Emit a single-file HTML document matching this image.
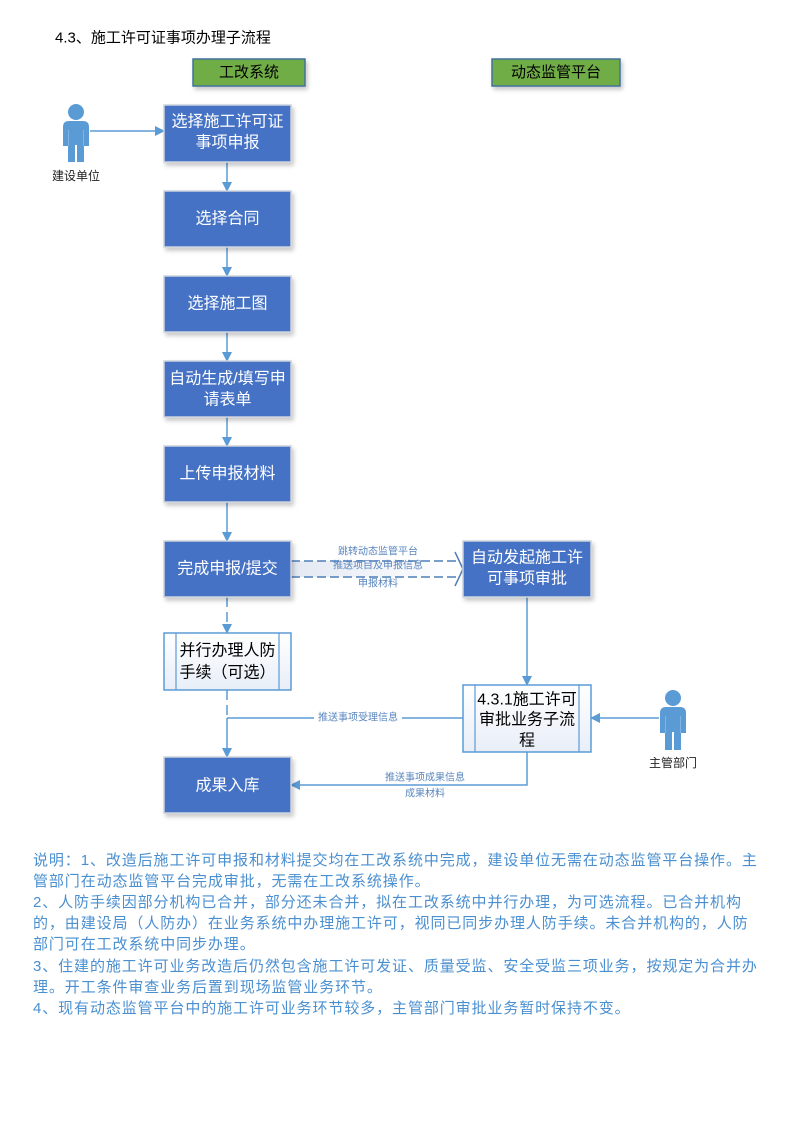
<!DOCTYPE html>
<html>
<head>
<meta charset="utf-8">
<style>
  html,body{margin:0;padding:0;background:#fff;}
  body{width:792px;height:1121px;position:relative;overflow:hidden;font-family:"Liberation Sans","Noto Sans CJK SC",sans-serif;}
  svg{position:absolute;left:0;top:0;}
  .note{position:absolute;left:33px;white-space:nowrap;font-size:15px;letter-spacing:0.9px;line-height:21px;color:#4A8FD0;font-family:"Liberation Sans","Noto Sans CJK SC",sans-serif;}
</style>
</head>
<body>
<svg width="792" height="1121" viewBox="0 0 792 1121" xmlns="http://www.w3.org/2000/svg" font-family="Liberation Sans, Noto Sans CJK SC, sans-serif">
  <defs>
    <filter id="sh" x="-10%" y="-10%" width="130%" height="140%">
      <feDropShadow dx="2" dy="3" stdDeviation="2" flood-color="#000" flood-opacity="0.22"/>
    </filter>
    <linearGradient id="pg" x1="0" y1="0" x2="0" y2="1">
      <stop offset="0" stop-color="#ffffff"/>
      <stop offset="1" stop-color="#E8EEF8"/>
    </linearGradient>
    <linearGradient id="dg" x1="0" y1="0" x2="1" y2="0">
      <stop offset="0" stop-color="#E3E8F2"/>
      <stop offset="1" stop-color="#ffffff"/>
    </linearGradient>
    <marker id="ah" markerWidth="10" markerHeight="10" refX="9" refY="5" orient="auto" markerUnits="userSpaceOnUse">
      <path d="M0,0 L10,5 L0,10 Z" fill="#5B9BD5"/>
    </marker>
  </defs>

  <!-- title -->
  <text x="55" y="38" font-size="15" fill="#000" dominant-baseline="central">4.3、施工许可证事项办理子流程</text>

  <!-- header boxes -->
  <rect x="193" y="59" width="112" height="27" fill="#70AD47" stroke="#41719C" stroke-width="1.5" filter="url(#sh)"/>
  <text x="249" y="72.5" font-size="15" fill="#000" text-anchor="middle" dominant-baseline="central">工改系统</text>
  <rect x="492" y="59" width="128" height="27" fill="#70AD47" stroke="#41719C" stroke-width="1.5" filter="url(#sh)"/>
  <text x="556" y="72.5" font-size="15" fill="#000" text-anchor="middle" dominant-baseline="central">动态监管平台</text>

  <!-- person 建设单位 -->
  <g fill="#5B9BD5">
    <circle cx="76" cy="112" r="8"/>
    <path d="M63,127 Q63,121 69,121 L83,121 Q89,121 89,127 L89,146 L84,146 L84,162 L77,162 L77,145 L75,145 L75,162 L68,162 L68,146 L63,146 Z"/>
  </g>
  <path d="M68.5,130 L68.5,146 M83.5,130 L83.5,146" stroke="#8DBBE6" stroke-width="0.8"/>
  <text x="76" y="176" font-size="12" fill="#222" text-anchor="middle" dominant-baseline="central">建设单位</text>

  <!-- person 主管部门 -->
  <g fill="#5B9BD5">
    <circle cx="673" cy="698" r="8"/>
    <path d="M660,713 Q660,707 666,707 L680,707 Q686,707 686,713 L686,733 L681,733 L681,750 L674,750 L674,732 L672,732 L672,750 L665,750 L665,733 L660,733 Z"/>
  </g>
  <path d="M665.5,716 L665.5,733 M680.5,716 L680.5,733" stroke="#8DBBE6" stroke-width="0.8"/>
  <text x="673" y="763" font-size="12" fill="#222" text-anchor="middle" dominant-baseline="central">主管部门</text>

  <!-- connectors -->
  <g stroke="#5B9BD5" stroke-width="1.5" fill="none">
    <line x1="90" y1="131" x2="164" y2="131" marker-end="url(#ah)"/>
    <line x1="227" y1="162" x2="227" y2="191" marker-end="url(#ah)"/>
    <line x1="227" y1="247" x2="227" y2="276" marker-end="url(#ah)"/>
    <line x1="227" y1="332" x2="227" y2="361" marker-end="url(#ah)"/>
    <line x1="227" y1="417" x2="227" y2="446" marker-end="url(#ah)"/>
    <line x1="227" y1="502" x2="227" y2="541" marker-end="url(#ah)"/>
    <line x1="227" y1="597" x2="227" y2="633" stroke-dasharray="10,5" marker-end="url(#ah)"/>
    <line x1="227" y1="690" x2="227" y2="718" stroke-dasharray="10,5"/>
    <line x1="227" y1="718" x2="227" y2="757" marker-end="url(#ah)"/>
    <line x1="463" y1="718" x2="227" y2="718"/>
    <line x1="527" y1="597" x2="527" y2="685" marker-end="url(#ah)"/>
    <polyline points="527,752 527,785 291,785" marker-end="url(#ah)"/>
    <line x1="659" y1="718" x2="591" y2="718" marker-end="url(#ah)"/>
  </g>

  <!-- double dashed connector -->
  <rect x="291" y="561" width="165" height="16" fill="url(#dg)"/>
  <g stroke="#4F7FB8" stroke-width="1.5" fill="none" stroke-dasharray="9,4">
    <line x1="291" y1="561" x2="457" y2="561"/>
    <line x1="291" y1="577" x2="457" y2="577"/>
  </g>
  <path d="M455,552 L463,569 L455,586" stroke="#4F7FB8" stroke-width="1.5" fill="none"/>
  <g font-size="10" fill="#5A86BE" text-anchor="middle" dominant-baseline="central">
    <text x="378" y="552">跳转动态监管平台</text>
    <text x="378" y="566">推送项目及申报信息</text>
    <text x="378" y="584">申报材料</text>
  </g>

  <!-- labels on solid connectors -->
  <rect x="314" y="712" width="88" height="13" fill="#fff"/>
  <g font-size="10" fill="#5A86BE" text-anchor="middle" dominant-baseline="central">
    <text x="358" y="718">推送事项受理信息</text>
    <text x="425" y="778">推送事项成果信息</text>
    <text x="425" y="794">成果材料</text>
  </g>

  <!-- blue process boxes -->
  <g fill="#4472C4" stroke="#CDD3DD" stroke-width="1.5" filter="url(#sh)">
    <rect x="164" y="105" width="127" height="57"/>
    <rect x="164" y="191" width="127" height="56"/>
    <rect x="164" y="276" width="127" height="56"/>
    <rect x="164" y="361" width="127" height="56"/>
    <rect x="164" y="446" width="127" height="56"/>
    <rect x="164" y="541" width="127" height="56"/>
    <rect x="164" y="757" width="127" height="56"/>
    <rect x="463" y="541" width="128" height="56"/>
  </g>
  <g font-size="16" fill="#fff" text-anchor="middle" dominant-baseline="central">
    <text x="227.5" y="122">选择施工许可证</text>
    <text x="227.5" y="143">事项申报</text>
    <text x="227.5" y="219">选择合同</text>
    <text x="227.5" y="304">选择施工图</text>
    <text x="227.5" y="379">自动生成/填写申</text>
    <text x="227.5" y="400">请表单</text>
    <text x="227.5" y="474">上传申报材料</text>
    <text x="227.5" y="569">完成申报/提交</text>
    <text x="227.5" y="786">成果入库</text>
    <text x="527" y="558">自动发起施工许</text>
    <text x="527" y="579">可事项审批</text>
  </g>

  <!-- predefined process boxes -->
  <g fill="url(#pg)" stroke="#5B9BD5" stroke-width="1.5">
    <rect x="164" y="633" width="127" height="57"/>
    <rect x="463" y="685" width="128" height="67"/>
  </g>
  <g stroke="#5B9BD5" stroke-width="1.2">
    <line x1="176" y1="633" x2="176" y2="690"/>
    <line x1="279" y1="633" x2="279" y2="690"/>
    <line x1="475" y1="685" x2="475" y2="752"/>
    <line x1="579" y1="685" x2="579" y2="752"/>
  </g>
  <g font-size="16" fill="#000" text-anchor="middle" dominant-baseline="central">
    <text x="227.5" y="651">并行办理人防</text>
    <text x="227.5" y="673">手续（可选）</text>
    <text x="527" y="700">4.3.1施工许可</text>
    <text x="527" y="720">审批业务子流</text>
    <text x="527" y="741">程</text>
  </g>
</svg>

<div class="note" style="top:850px;">说明：1、改造后施工许可申报和材料提交均在工改系统中完成，建设单位无需在动态监管平台操作。主</div>
<div class="note" style="top:871px;">管部门在动态监管平台完成审批，无需在工改系统操作。</div>
<div class="note" style="top:892px;">2、人防手续因部分机构已合并，部分还未合并，拟在工改系统中并行办理，为可选流程。已合并机构</div>
<div class="note" style="top:913px;">的，由建设局（人防办）在业务系统中办理施工许可，视同已同步办理人防手续。未合并机构的，人防</div>
<div class="note" style="top:934px;">部门可在工改系统中同步办理。</div>
<div class="note" style="top:956px;">3、住建的施工许可业务改造后仍然包含施工许可发证、质量受监、安全受监三项业务，按规定为合并办</div>
<div class="note" style="top:977px;">理。开工条件审查业务后置到现场监管业务环节。</div>
<div class="note" style="top:998px;">4、现有动态监管平台中的施工许可业务环节较多，主管部门审批业务暂时保持不变。</div>
</body>
</html>
